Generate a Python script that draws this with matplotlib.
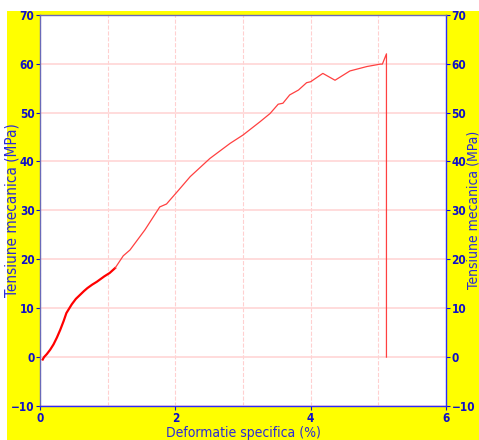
import matplotlib
matplotlib.use('Agg')
import matplotlib.pyplot as plt
from matplotlib.patches import Rectangle
import numpy as np

plt.rcParams['font.family'] = ['DejaVu Sans']

# curba tensiune - deformatie
strain_a = [0.04, 0.06, 0.10, 0.15, 0.20, 0.25, 0.30, 0.35, 0.39, 0.43, 0.47, 0.53,
            0.59, 0.65, 0.70, 0.77, 0.84, 0.90, 0.95, 1.03, 1.11]
stress_a = [-0.5, 0.0, 0.6, 1.5, 2.6, 4.0, 5.6, 7.4, 9.0, 9.9, 10.8, 11.9,
            12.7, 13.5, 14.1, 14.8, 15.4, 16.0, 16.5, 17.2, 18.2]

strain_b = [1.11, 1.23, 1.33, 1.55, 1.77, 1.87, 1.92, 2.04, 2.22, 2.51, 2.81, 3.00, 3.25,
            3.40, 3.52, 3.59, 3.69, 3.82, 3.94, 4.00, 4.18, 4.36, 4.58, 4.83, 5.03, 5.06,
            5.12, 5.12]
stress_b = [18.2, 20.7, 21.9, 26.0, 30.7, 31.3, 32.1, 34.0, 36.9, 40.6, 43.7, 45.4, 48.1,
            49.8, 51.7, 51.9, 53.6, 54.6, 56.1, 56.3, 58.0, 56.6, 58.5, 59.4, 59.9, 59.9,
            62.0, 0.0]

fig = plt.figure(figsize=(4.79, 4.40), dpi=100)
fig.patch.set_facecolor('white')
fig.patches.append(Rectangle((7 / 479, 0), 1, 1 - 11 / 440, transform=fig.transFigure,
                             facecolor='#ffff00', edgecolor='none', zorder=-10))

ax = fig.add_axes([40 / 479, 34 / 440, 406 / 479, 391.3 / 440])
ax.set_facecolor('white')

ax.plot(strain_a, stress_a, color='#ff0000', lw=1.6, zorder=3)
ax.plot(strain_b, stress_b, color='#ff4040', lw=0.9, zorder=3)

ax.set_xlim(0, 6)
ax.set_ylim(-10, 70)
ax.set_xticks([0, 2, 4, 6])
ax.set_xticks([1, 3, 5], minor=True)
ax.set_yticks(np.arange(-10, 71, 10))

# grila: orizontal continuu, vertical punctat
ax.grid(axis='y', color='#ffd6d6', lw=1.2, linestyle='-')
ax.grid(axis='x', which='both', color='#ffd0d0', lw=0.8, linestyle='--')
ax.set_axisbelow(True)

tick_col = '#1010c8'
ax.tick_params(axis='both', colors=tick_col, labelsize=8.5, length=3, width=0.8, pad=1.5)
ax.tick_params(axis='x', which='minor', length=0)
ax.tick_params(axis='y', right=True, labelright=True)
ax.tick_params(axis='y', which='major', pad=1)
for t in ax.xaxis.get_major_ticks() + ax.yaxis.get_major_ticks():
    for lab in (t.label1, t.label2):
        lab.set_fontweight('bold')
        lab.set_fontstretch('condensed')

for s in ['left', 'top']:
    ax.spines[s].set_color('#6a6ab8')
for s in ['right', 'bottom']:
    ax.spines[s].set_color('#2a2aff')
for s in ax.spines.values():
    s.set_linewidth(1.0)

lab_col = '#2a2ad8'
ax.set_xlabel('Deformatie specifica (%)', color=lab_col, fontsize=10, fontstretch='condensed')
ax.xaxis.set_label_coords(0.5, -0.05)
ax.set_ylabel('Tensiune mecanica (MPa)', color=lab_col, fontsize=11, fontstretch='condensed')
ax.yaxis.set_label_coords(-0.051, 0.5)
ax.text(1.067, 0.5, 'Tensiune mecanica (MPa)', color=lab_col, fontsize=10,
        fontstretch='condensed', rotation=90, ha='center', va='center',
        transform=ax.transAxes)

fig.savefig('out.png', dpi=100, facecolor=fig.get_facecolor())
